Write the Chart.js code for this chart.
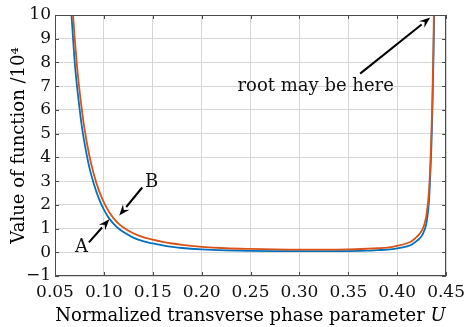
<!DOCTYPE html>
<html><head><meta charset="utf-8">
<script src="https://cdn.jsdelivr.net/npm/chart.js@4"></script>
<style>html,body{margin:0;padding:0;background:#fff;overflow:hidden}</style>
</head><body>
<canvas id="c" width="471" height="327"></canvas>
<script>
// ---- data ----
const uBlue = [0.0669,0.068,0.07,0.0725,0.075,0.0775,0.08,0.085,0.09,0.095,0.10,0.105,0.11,0.115,0.12,0.13,0.14,0.15,0.16,0.17,0.18,0.20,0.225,0.25,0.275,0.30,0.325,0.35,0.37,0.38,0.39,0.40,0.41,0.415,0.42,0.425,0.428,0.43,0.432,0.433,0.434,0.435,0.436,0.437,0.4378];
const vBlue = [10,9.3,8.1,7.0,6.1,5.3,4.65,3.6,2.85,2.25,1.8,1.45,1.2,1.0,0.85,0.62,0.47,0.37,0.29,0.23,0.18,0.12,0.08,0.06,0.05,0.045,0.045,0.05,0.07,0.09,0.11,0.16,0.25,0.33,0.48,0.68,0.95,1.25,1.9,2.5,3.4,4.5,6.0,8.0,10];
const uOrange = [0.0685,0.07,0.0725,0.075,0.0775,0.08,0.085,0.09,0.095,0.10,0.105,0.11,0.115,0.12,0.13,0.14,0.15,0.16,0.17,0.18,0.20,0.225,0.25,0.275,0.30,0.325,0.35,0.37,0.38,0.39,0.40,0.41,0.415,0.42,0.425,0.428,0.43,0.432,0.433,0.434,0.435,0.436,0.437,0.4375];
const vOrange = [10,9.1,7.85,6.85,6.0,5.25,4.1,3.25,2.6,2.1,1.72,1.43,1.21,1.04,0.8,0.64,0.53,0.44,0.37,0.31,0.23,0.17,0.14,0.12,0.11,0.11,0.12,0.15,0.17,0.2,0.27,0.38,0.48,0.65,0.9,1.2,1.6,2.3,2.9,3.8,5.0,6.5,8.5,10];
const xTickValues = [0.05,0.10,0.15,0.20,0.25,0.30,0.35,0.40,0.45];
const yTickValues = [-1,0,1,2,3,4,5,6,7,8,9,10];
const xTitleMain = 'Normalized transverse phase parameter ';
const xTitleVar = 'U';
const yTitle = 'Value of function /10\u2074';
// annotation anchors (data coordinates)
const noteA = {text:'A', u:0.077, v:0.19};
const arrowA = {u0:0.0847, v0:0.42, u1:0.1056, v1:1.39};
const noteB = {text:'B', u:0.1487, v:2.94};
const arrowB = {u0:0.1392, v0:2.73, u1:0.1157, v1:1.55};
const noteRoot = {text:'root may be here', u:0.3166, v:7.0};
const arrowRoot = {u0:0.3621, v0:7.53, u1:0.4338, v1:9.89};

const SERIF = '"DejaVu Serif", serif';
const TEXT = '#111';

function toPts(us, vs){ return us.map((u,i)=>({x:u, y:vs[i]})); }

function drawArrow(ctx, x0,y0,x1,y1){
  const ang = Math.atan2(y1-y0, x1-x0);
  const L = 11, W = 4.2;
  const bx = x1 - L*Math.cos(ang), by = y1 - L*Math.sin(ang);
  ctx.beginPath(); ctx.moveTo(x0,y0); ctx.lineTo(bx,by);
  ctx.strokeStyle='#000'; ctx.lineWidth=2; ctx.stroke();
  ctx.beginPath();
  ctx.moveTo(x1,y1);
  ctx.lineTo(bx + W*Math.sin(ang), by - W*Math.cos(ang));
  ctx.lineTo(bx + 0.35*L*Math.cos(ang), by + 0.35*L*Math.sin(ang));
  ctx.lineTo(bx - W*Math.sin(ang), by + W*Math.cos(ang));
  ctx.closePath(); ctx.fillStyle='#000'; ctx.fill();
}

const overlay = {
  id:'overlay',
  afterDraw(chart){
    const {ctx, chartArea:ca, scales:{x,y}} = chart;
    ctx.save();
    // frame
    ctx.strokeStyle='#4a4a4a'; ctx.lineWidth=1;
    ctx.strokeRect(Math.round(ca.left)+0.5, Math.round(ca.top)+0.5, Math.round(ca.right-ca.left)-1, Math.round(ca.bottom-ca.top)-1);
    // inward ticks
    ctx.beginPath();
    yTickValues.forEach(v=>{const p=Math.round(y.getPixelForValue(v))+0.5; ctx.moveTo(ca.left,p); ctx.lineTo(ca.left+4,p); ctx.moveTo(ca.right,p); ctx.lineTo(ca.right-4,p);});
    xTickValues.forEach(v=>{const p=Math.round(x.getPixelForValue(v))+0.5; ctx.moveTo(p,ca.bottom); ctx.lineTo(p,ca.bottom-4); ctx.moveTo(p,ca.top); ctx.lineTo(p,ca.top+4);});
    ctx.stroke();
    // annotations
    const P = (u,v)=>[x.getPixelForValue(u), y.getPixelForValue(v)];
    ctx.fillStyle=TEXT; ctx.font='18px '+SERIF; ctx.textAlign='center'; ctx.textBaseline='middle';
    [noteA,noteB,noteRoot].forEach(n=>{const [px,py]=P(n.u,n.v); ctx.fillText(n.text,px,py);});
    [arrowA,arrowB,arrowRoot].forEach(a=>{const [x0,y0]=P(a.u0,a.v0); const [x1,y1]=P(a.u1,a.v1); drawArrow(ctx,x0,y0,x1,y1);});
    // x title with italic variable
    ctx.textBaseline='alphabetic'; ctx.textAlign='left';
    const FT = '18px '+SERIF, FI = 'italic 18px '+SERIF;
    ctx.font=FT;
    const w1 = ctx.measureText(xTitleMain).width;
    ctx.font=FI;
    const w2 = ctx.measureText(xTitleVar).width;
    const cx = (ca.left+ca.right)/2;
    let sx = cx - (w1+w2)/2;
    ctx.font=FT; ctx.fillText(xTitleMain, sx, 321);
    ctx.font=FI; ctx.fillText(xTitleVar, sx+w1, 321);
    // y title
    ctx.save();
    ctx.translate(19, (ca.top+ca.bottom)/2);
    ctx.rotate(-Math.PI/2);
    ctx.font=FT; ctx.textAlign='center'; ctx.textBaseline='middle';
    ctx.fillText(yTitle,0,0);
    ctx.restore();
    ctx.restore();
  }
};

new Chart(document.getElementById('c'), {
  type:'line',
  data:{datasets:[
    {data:toPts(uOrange,vOrange), borderColor:'#D95319', borderWidth:1.8, pointRadius:0, cubicInterpolationMode:'monotone', fill:false},
    {data:toPts(uBlue,vBlue), borderColor:'#0072BD', borderWidth:1.8, pointRadius:0, cubicInterpolationMode:'monotone', fill:false}
  ]},
  options:{
    responsive:false, animation:false, devicePixelRatio:1,
    layout:{padding:{top:15, right:19, left:0, bottom:0}},
    plugins:{legend:{display:false}, tooltip:{enabled:false}},
    scales:{
      x:{type:'linear', min:0.05, max:0.45,
        afterBuildTicks:s=>{s.ticks = xTickValues.map(v=>({value:v}));},
        afterFit:s=>{s.height = 51;},
        grid:{color:'#d6d6d6', lineWidth:1, drawTicks:false},
        border:{display:false},
        ticks:{callback:v=>Number(v).toFixed(2), font:{family:SERIF, size:17}, color:TEXT, maxRotation:0, autoSkip:false, padding:6}
      },
      y:{type:'linear', min:-1, max:10,
        afterBuildTicks:s=>{s.ticks = yTickValues.map(v=>({value:v}));},
        afterFit:s=>{s.width = 55;},
        grid:{color:'#d6d6d6', lineWidth:1, drawTicks:false},
        border:{display:false},
        ticks:{callback:v=>(v<0?'\u2212'+Math.abs(v):String(v)), font:{family:SERIF, size:17}, color:TEXT, padding:4, autoSkip:false}
      }
    }
  },
  plugins:[overlay]
});
</script>
</body></html>
